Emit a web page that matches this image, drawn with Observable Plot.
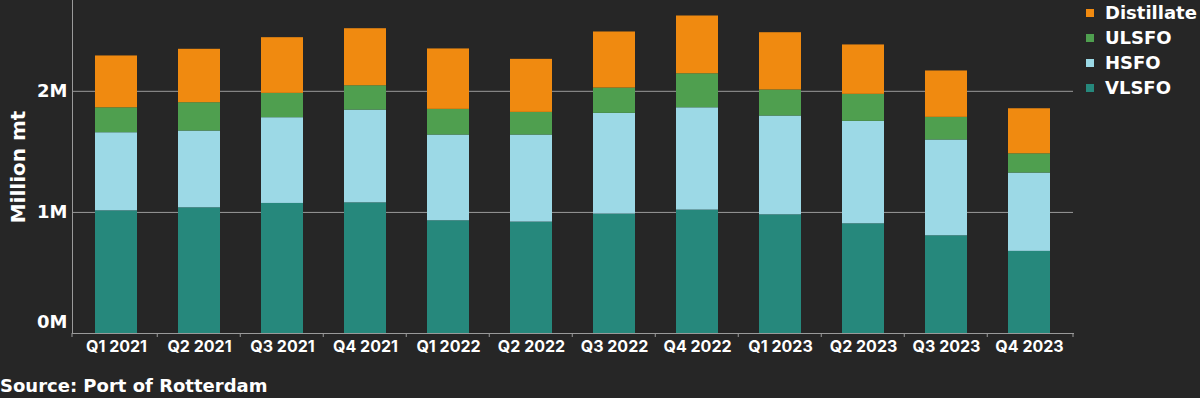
<!DOCTYPE html>
<html><head><meta charset="utf-8">
<script src="https://cdn.jsdelivr.net/npm/d3@7"></script>
<script src="https://cdn.jsdelivr.net/npm/@observablehq/plot@0.6"></script>
<style>
html,body{margin:0;padding:0;background:#262626;}
body{width:1200px;height:398px;overflow:hidden;position:relative;font-family:"DejaVu Sans",sans-serif;color:#fff;font-weight:700;}
#chart svg{display:block;background:#262626;}
#legend{position:absolute;left:1086px;top:0px;font-size:18px;line-height:25px;}
#legend .row{display:flex;align-items:center;height:25px;}
#legend .sw{width:8px;height:8px;margin-right:11px;}
#caption{position:absolute;left:0;top:374px;font-size:18px;line-height:24px;white-space:nowrap;}
#ylabel{position:absolute;left:18px;top:167px;font-size:20px;line-height:20px;white-space:nowrap;transform:translate(-50%,-50%) rotate(-90deg);}
</style></head><body>
<div id="chart"></div>
<div id="ylabel">Million mt</div>
<div id="legend"></div>
<div id="caption">Source: Port of Rotterdam</div>
<script>
const quarters = ["Q1 2021","Q2 2021","Q3 2021","Q4 2021","Q1 2022","Q2 2022","Q3 2022","Q4 2022","Q1 2023","Q2 2023","Q3 2023","Q4 2023"];
const seriesNames = ["VLSFO","HSFO","ULSFO","Distillate"];
const seriesColors = ["#26887c","#9cd9e6","#4f9f4f","#f08a10"];
const vlsfo      = [1.013,1.038,1.074,1.079,0.931,0.920,0.986,1.019,0.980,0.906,0.807,0.678];
const hsfo       = [0.645,0.634,0.708,0.766,0.708,0.719,0.832,0.845,0.816,0.846,0.791,0.647];
const ulsfo      = [0.206,0.234,0.201,0.201,0.212,0.187,0.209,0.281,0.215,0.223,0.187,0.159];
const distillate = [0.428,0.441,0.460,0.471,0.499,0.438,0.463,0.477,0.473,0.408,0.383,0.372];
const yTicks = [0, 1e6, 2e6];
const yTickLabels = ["0M","1M","2M"];

const seriesValues = [vlsfo, hsfo, ulsfo, distillate];
const data = [];
quarters.forEach((q, i) => {
  seriesNames.forEach((s, j) => {
    data.push({quarter: q, fuel: s, value: seriesValues[j][i] * 1e6});
  });
});

const padInner = 0.5;
function boundaryTicks(index, scales, values, dimensions) {
  const x = scales.x;
  const step = x(quarters[1]) - x(quarters[0]);
  const bw = step * (1 - padInner);
  const g = d3.create("svg:g").attr("stroke", "#9a9a9a").attr("stroke-width", 1);
  const yb = dimensions.height - dimensions.marginBottom;
  const pos = [dimensions.marginLeft];
  quarters.forEach((q, i) => {
    if (i < quarters.length - 1) pos.push(x(q) + bw + (step - bw) / 2);
  });
  pos.push(dimensions.width - dimensions.marginRight);
  for (const p of pos) {
    g.append("line").attr("x1", p).attr("x2", p).attr("y1", yb).attr("y2", yb + 4);
  }
  return g.node();
}

const chart = Plot.plot({
  width: 1200,
  height: 365,
  marginLeft: 72,
  marginRight: 127,
  marginTop: 0,
  marginBottom: 32,
  style: {background: "#262626", color: "#ffffff", fontFamily: "Inter, 'Open Sans', sans-serif", fontWeight: 700},
  x: {domain: quarters, paddingInner: padInner, paddingOuter: 0.25},
  y: {domain: [0, 2.75e6]},
  color: {domain: seriesNames, range: seriesColors},
  marks: [
    Plot.gridY(yTicks.filter(d => d > 0), {stroke: "#9a9a9a", strokeOpacity: 1, strokeWidth: 1}),
    Plot.barY(data, {x: "quarter", y: "value", fill: "fuel", order: seriesNames}),
    Plot.frame({anchor: "left", stroke: "#9a9a9a"}),
    Plot.frame({anchor: "bottom", stroke: "#9a9a9a"}),
    Plot.axisX({tickSize: 0, tickPadding: 7, fontSize: 16, fill: "#ffffff", label: null}),
    Plot.axisY(yTicks, {tickSize: 0, tickPadding: 5, fontSize: 18, fontFamily: "DejaVu Sans", fill: "#ffffff", tickFormat: (d) => yTickLabels[yTicks.indexOf(d)], label: null}),
    Plot.dot([0], {x: () => quarters[0], y: 0, r: 0, render: boundaryTicks})
  ]
});
document.getElementById("chart").appendChild(chart);
chart.querySelectorAll("text").forEach(el => {
  if (el.textContent === yTickLabels[0]) {
    el.setAttribute("transform", "translate(0,-11) " + (el.getAttribute("transform") || ""));
  }
});

const legend = document.getElementById("legend");
for (let j = seriesNames.length - 1; j >= 0; j--) {
  const row = document.createElement("div");
  row.className = "row";
  const sw = document.createElement("div");
  sw.className = "sw";
  sw.style.background = seriesColors[j];
  const t = document.createElement("span");
  t.textContent = seriesNames[j];
  row.appendChild(sw); row.appendChild(t);
  legend.appendChild(row);
}
</script>
</body></html>
